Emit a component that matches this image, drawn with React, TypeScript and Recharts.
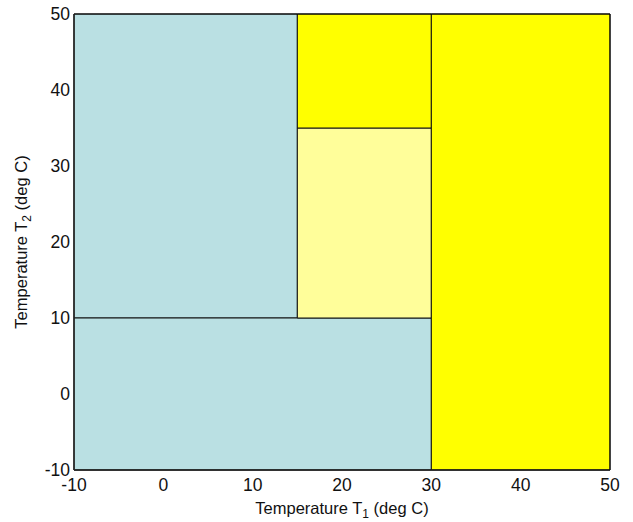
import { ComposedChart, XAxis, YAxis, ReferenceArea } from 'recharts';

const xTicks = [-10, 0, 10, 20, 30, 40, 50];
const yTicks = [-10, 0, 10, 20, 30, 40, 50];

// regions in data units: [x1, x2, y1, y2]
const regionX1 = [-10, -10, 15, 15, 30];
const regionX2 = [15, 30, 30, 30, 50];
const regionY1 = [10, -10, 10, 35, -10];
const regionY2 = [50, 10, 35, 50, 50];
const regionKind = ['cool', 'cool', 'mild', 'hot', 'hot'];

const kindColor: Record<string, string> = {
  cool: '#BAE0E3',
  mild: '#FFFE9A',
  hot: '#FFFF00',
};

const font = '"Liberation Sans", Arial, sans-serif';

function XLabel(props: any) {
  const { viewBox } = props;
  const cx = viewBox.x + viewBox.width / 2;
  const y = viewBox.y + 44;
  return (
    <text x={cx} y={y} textAnchor="middle" fontSize={16.5} fill="#111" fontFamily={font}>
      Temperature T<tspan fontSize={12} dy={4}>1</tspan>
      <tspan dy={-4}> (deg C)</tspan>
    </text>
  );
}

function YLabel(props: any) {
  const { viewBox } = props;
  const cy = viewBox.y + viewBox.height / 2;
  const x = 27;
  return (
    <text
      x={x}
      y={cy}
      textAnchor="middle"
      fontSize={16.5}
      fill="#111"
      fontFamily={font}
      transform={`rotate(-90, ${x}, ${cy})`}
    >
      Temperature T<tspan fontSize={12} dy={4}>2</tspan>
      <tspan dy={-4}> (deg C)</tspan>
    </text>
  );
}

export default function App() {
  return (
    <div style={{ position: 'absolute', left: 0, top: 0, width: 633, height: 522, background: '#fff' }}>
      <ComposedChart
        width={633}
        height={522}
        data={[]}
        margin={{ top: 14, right: 23, bottom: 22, left: 24 }}
      >
        <XAxis
          type="number"
          dataKey="x"
          domain={[-10, 50]}
          ticks={xTicks}
          allowDataOverflow
          tickLine={false}
          tickSize={0}
          axisLine={{ stroke: '#222' }}
          height={30}
          tick={{ fontSize: 17.5, fill: '#111', fontFamily: font }}
          tickMargin={9}
          label={<XLabel />}
        />
        <YAxis
          type="number"
          dataKey="y"
          domain={[-10, 50]}
          ticks={yTicks}
          allowDataOverflow
          tickLine={false}
          tickSize={0}
          axisLine={{ stroke: '#333' }}
          width={50}
          tick={{ fontSize: 17.5, fill: '#111', fontFamily: font }}
          tickMargin={4}
          label={<YLabel />}
        />
        {regionX1.map((x1, i) => (
          <ReferenceArea
            key={i}
            x1={x1}
            x2={regionX2[i]}
            y1={regionY1[i]}
            y2={regionY2[i]}
            fill={kindColor[regionKind[i]]}
            fillOpacity={1}
            stroke="#111"
            strokeWidth={1}
            ifOverflow="visible"
          />
        ))}
        <ReferenceArea
          x1={-10}
          x2={50}
          y1={-10}
          y2={50}
          fill="none"
          stroke="#000"
          strokeWidth={1}
          ifOverflow="visible"
        />
      </ComposedChart>
    </div>
  );
}
